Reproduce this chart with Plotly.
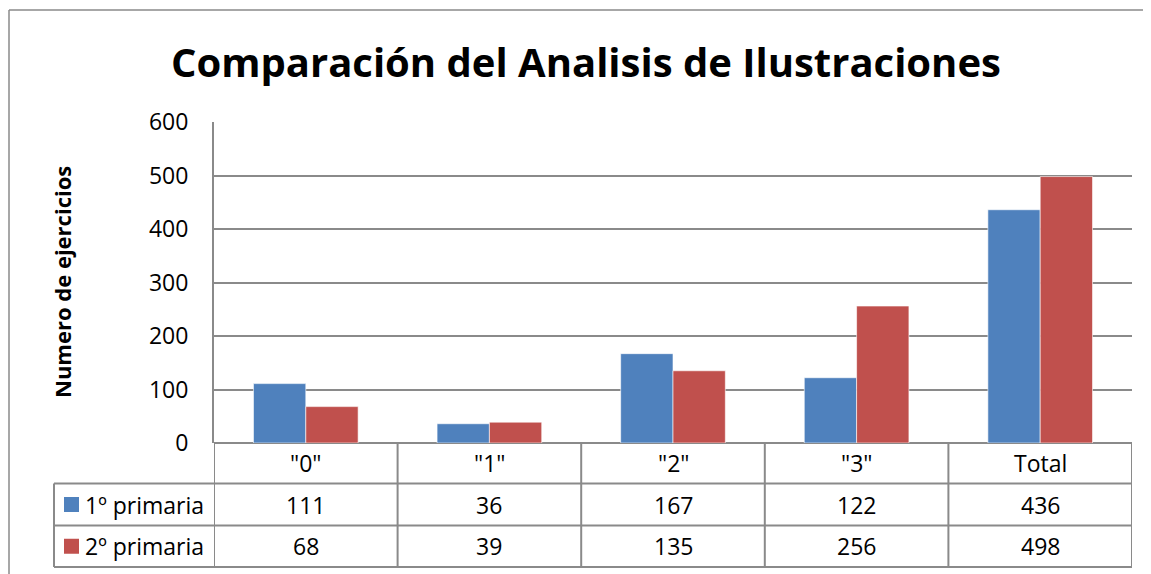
import plotly.graph_objects as go

categories = ['"0"', '"1"', '"2"', '"3"', 'Total']
series_names = ['1º primaria', '2º primaria']
primaria1 = [111, 36, 167, 122, 436]
primaria2 = [68, 39, 135, 256, 498]
colors = ['#4F81BD', '#C0504D']
title = 'Comparación del Analisis de Ilustraciones'
y_title = 'Numero de ejercicios'

# page body has an 8px margin; lay out in reference pixel coordinates
OFF = 8
W, H = 1151 - OFF, 574 - OFF
PL, PR, PT, PB = 214, 1132, 122, 443  # plot area in reference pixels
L, R, T, B = PL - OFF, 1151 - PR, PT - OFF, 574 - PB
pw, ph = PR - PL, PB - PT
FONT = 'Open Sans'

def px_x(x):
    return (x - PL) / pw

def px_y(y):
    return (PB - y) / ph

fig = go.Figure()
for name, vals, col in zip(series_names, [primaria1, primaria2], colors):
    fig.add_trace(go.Bar(x=list(range(len(categories))), y=vals, name=name,
                         marker=dict(color=col, line=dict(color='rgba(255,255,255,0.6)', width=1)),
                         showlegend=False))

grid = '#8a8a8a'
shapes = []
annotations = []
row_lines = [483.5, 525.5, 567]
left_table = 54
n = len(categories)
for yv in row_lines:
    shapes.append(dict(type='line', xref='paper', yref='paper', x0=px_x(left_table), x1=1,
                       y0=px_y(yv), y1=px_y(yv), line=dict(color=grid, width=2)))
for i in range(n + 1):
    shapes.append(dict(type='line', xref='x', yref='paper', x0=i - 0.5, x1=i - 0.5,
                       y0=px_y(PB), y1=px_y(row_lines[-1]), line=dict(color=grid, width=2)))
shapes.append(dict(type='line', xref='paper', yref='paper', x0=px_x(left_table), x1=px_x(left_table),
                   y0=px_y(row_lines[0]), y1=px_y(row_lines[-1]), line=dict(color=grid, width=2)))
# outer chart border
shapes.append(dict(type='line', xref='paper', yref='paper', x0=px_x(9), x1=px_x(1160),
                   y0=px_y(10), y1=px_y(10), line=dict(color=grid, width=1.5)))
shapes.append(dict(type='line', xref='paper', yref='paper', x0=px_x(9), x1=px_x(9),
                   y0=px_y(10), y1=px_y(580), line=dict(color=grid, width=1.5)))

TS = 23
hdr_y = px_y((PB + row_lines[0]) / 2)
for i, c in enumerate(categories):
    annotations.append(dict(x=i, y=hdr_y, xref='x', yref='paper', text=c, showarrow=False,
                            font=dict(family=FONT, size=TS, color='black'), yanchor='middle'))
row_centers = [(row_lines[0] + row_lines[1]) / 2, (row_lines[1] + row_lines[2]) / 2]
for r, (name, vals, col) in enumerate(zip(series_names, [primaria1, primaria2], colors)):
    yc = px_y(row_centers[r])
    for i, v in enumerate(vals):
        annotations.append(dict(x=i, y=yc, xref='x', yref='paper', text=str(v), showarrow=False,
                                font=dict(family=FONT, size=TS, color='black'), yanchor='middle'))
    shapes.append(dict(type='rect', xref='paper', yref='paper', x0=px_x(64), x1=px_x(79),
                       y0=yc - 7.5 / ph, y1=yc + 7.5 / ph, fillcolor=col, line=dict(width=0)))
    annotations.append(dict(x=px_x(83), y=yc, xref='paper', yref='paper', text=name, showarrow=False,
                            xanchor='left', yanchor='middle',
                            font=dict(family=FONT, size=TS, color='black')))

annotations.append(dict(x=px_x(586), y=px_y(62), xref='paper', yref='paper', text='<b>' + title + '</b>',
                        showarrow=False, xanchor='center', yanchor='middle',
                        font=dict(family=FONT, size=40, color='black')))
annotations.append(dict(x=px_x(62), y=px_y(282), xref='paper', yref='paper', text='<b>' + y_title + '</b>',
                        showarrow=False, xanchor='center', yanchor='middle', textangle=-90,
                        font=dict(family=FONT, size=22, color='black')))

fig.update_layout(
    width=W, height=H,
    margin=dict(l=L, r=R, t=T, b=B, pad=0),
    paper_bgcolor='white', plot_bgcolor='white',
    barmode='group', bargap=0.43, bargroupgap=0,
    xaxis=dict(range=[-0.5, n - 0.5], showticklabels=False, showgrid=False, zeroline=False,
               showline=False, ticks=''),
    yaxis=dict(range=[0, 600], dtick=100, showgrid=True, gridcolor=grid, gridwidth=1.5,
               showline=True, linecolor=grid, linewidth=2, zeroline=True, zerolinecolor=grid,
               zerolinewidth=2, ticks='', ticklen=0, ticklabelstandoff=19,
               tickfont=dict(family=FONT, size=23, color='black')),
    shapes=shapes, annotations=annotations,
)
fig.write_html('out.html')
